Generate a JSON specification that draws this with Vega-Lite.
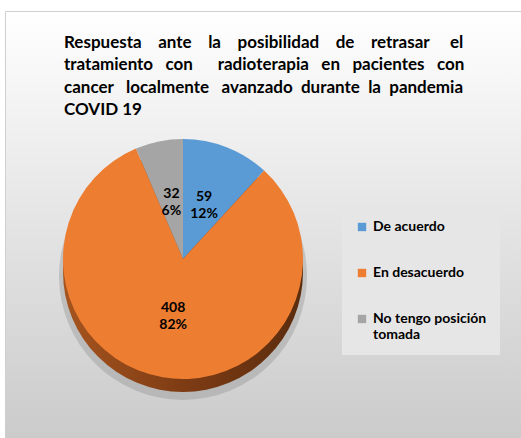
{
  "$schema": "https://vega.github.io/schema/vega-lite/v6.json",
  "width": 516,
  "height": 427,
  "autosize": {"type": "none"},
  "padding": {"left": 5, "top": 11, "right": 0, "bottom": 0},
  "background": "white",
  "view": {
    "fill": {"gradient": "linear", "x1": 0, "y1": 0, "x2": 0, "y2": 1,
      "stops": [{"offset": 0, "color": "#ffffff"}, {"offset": 0.5, "color": "#e4e4e4"}, {"offset": 1, "color": "#cbcbcb"}]},
    "stroke": "#cfcfcf",
    "strokeWidth": 1
  },
  "title": {
    "text": ["Respuesta\u00a0\u00a0\u00a0\u00a0ante\u00a0\u00a0\u00a0\u00a0la\u00a0\u00a0\u00a0\u00a0posibilidad\u00a0\u00a0\u00a0\u00a0de\u00a0\u00a0\u00a0\u00a0retrasar\u00a0\u00a0\u00a0\u00a0\u00a0el", "tratamiento\u00a0\u00a0\u00a0con\u00a0\u00a0\u00a0\u00a0\u00a0\u00a0radioterapia\u00a0\u00a0\u00a0en\u00a0\u00a0\u00a0pacientes\u00a0\u00a0\u00a0con", "cancer\u00a0\u00a0\u00a0localmente\u00a0\u00a0\u00a0avanzado\u00a0\u00a0durante\u00a0\u00a0la\u00a0\u00a0pandemia", "COVID 19"],
    "anchor": "start",
    "frame": "group",
    "font": "Lato",
    "fontSize": 17,
    "fontWeight": "bold",
    "color": "#000000",
    "lineHeight": 22.5,
    "offset": -108,
    "dx": 59
  },
  "data": {
    "values": [
      {"respuesta": "De acuerdo", "n": 59, "pct": "12%"},
      {"respuesta": "En desacuerdo", "n": 408, "pct": "82%"},
      {"respuesta": "No tengo posición tomada", "n": 32, "pct": "6%"}
    ]
  },
  "layer": [
    {
      "transform": [{"aggregate": [{"op": "sum", "field": "n", "as": "total"}]}],
      "mark": {"type": "arc", "radius": 124, "x": 178, "y": 248, "yOffset": 17, "fill": "#8a8a8a", "opacity": 0.35},
      "encoding": {"theta": {"field": "total", "type": "quantitative"}}
    },
    {
      "transform": [{"aggregate": [{"op": "sum", "field": "n", "as": "total"}]}],
      "mark": {"type": "arc", "radius": 120, "x": 178, "y": 248, "yOffset": 13,
        "fill": {"gradient": "linear", "x1": 0, "y1": 0, "x2": 1, "y2": 0,
          "stops": [{"offset": 0, "color": "#a6541f"}, {"offset": 0.5, "color": "#7e3c14"}, {"offset": 1, "color": "#5a2c0e"}]}},
      "encoding": {"theta": {"field": "total", "type": "quantitative"}}
    },
    {
      "mark": {"type": "arc", "radius": 120, "x": 178, "y": 248},
      "encoding": {
        "theta": {"field": "n", "type": "quantitative", "stack": true},
        "order": {"field": "respuesta", "type": "ordinal", "sort": "ascending"},
        "color": {
          "field": "respuesta",
          "type": "nominal",
          "scale": {"domain": ["De acuerdo", "En desacuerdo", "No tengo posición tomada"], "range": ["#5b9bd5", "#ed7d31", "#a5a5a5"]},
          "legend": {
            "title": null,
            "orient": "none",
            "legendX": 337,
            "legendY": 196,
            "fillColor": "#e6e6e6",
            "padding": 13,
            "symbolType": "square",
            "symbolSize": 70,
            "symbolStrokeWidth": 0,
            "labelFont": "Lato",
            "labelFontSize": 14,
            "labelFontWeight": "bold",
            "labelColor": "#000000",
            "labelOffset": 4,
            "labelLimit": 200,
            "rowPadding": 32,
            "labelExpr": "datum.label == 'No tengo posición tomada' ? ['No tengo posición', 'tomada'] : datum.label"
          }
        }
      }
    },
    {
      "mark": {"type": "text", "radius": 58, "x": 178, "y": 248, "dy": -8, "font": "Lato", "fontSize": 14, "fontWeight": "bold", "fill": "#000000"},
      "encoding": {
        "theta": {"field": "n", "type": "quantitative", "stack": true},
        "order": {"field": "respuesta", "type": "ordinal", "sort": "ascending"},
        "text": {"field": "n", "type": "quantitative"}
      }
    },
    {
      "mark": {"type": "text", "radius": 58, "x": 178, "y": 248, "dy": 9, "font": "Lato", "fontSize": 14, "fontWeight": "bold", "fill": "#000000"},
      "encoding": {
        "theta": {"field": "n", "type": "quantitative", "stack": true},
        "order": {"field": "respuesta", "type": "ordinal", "sort": "ascending"},
        "text": {"field": "pct", "type": "nominal"}
      }
    }
  ]
}
